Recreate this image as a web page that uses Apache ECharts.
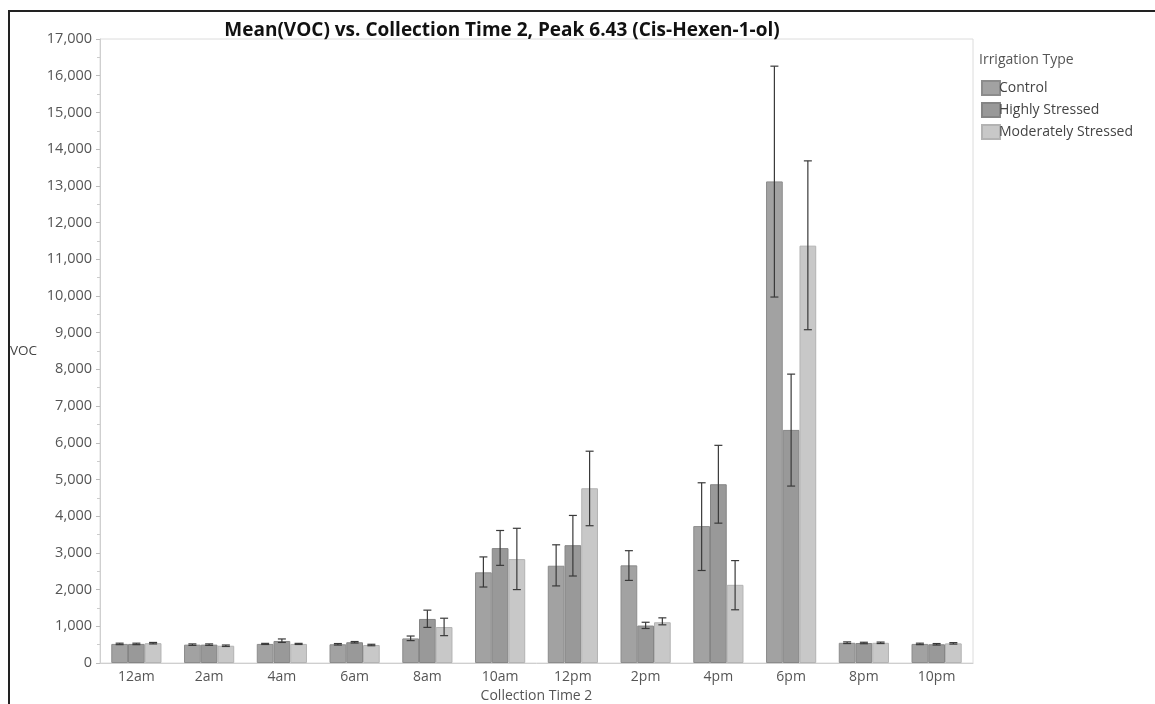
<!DOCTYPE html>
<html>
<head>
<meta charset="utf-8">
<script src="https://cdn.jsdelivr.net/npm/echarts@6/dist/echarts.min.js"></script>
<style>html,body{margin:0;padding:0;background:#fff;}#c{width:1155px;height:704px;}</style>
</head>
<body>
<div id="c"></div>
<script>
const categories = ['12am','2am','4am','6am','8am','10am','12pm','2pm','4pm','6pm','8pm','10pm'];
const seriesNames = ['Control','Highly Stressed','Moderately Stressed'];
const controlMean = [520, 500, 520, 510, 670, 2470, 2650, 2660, 3730, 13120, 550, 520];
const controlLow  = [500, 480, 505, 490, 610, 2070, 2100, 2250, 2520, 9970, 530, 500];
const controlHigh = [540, 520, 535, 530, 735, 2890, 3220, 3060, 4910, 16260, 575, 540];
const highlyMean = [520, 500, 600, 565, 1200, 3130, 3210, 1020, 4870, 6350, 545, 510];
const highlyLow  = [500, 480, 560, 545, 970, 2660, 2370, 940, 3810, 4820, 525, 490];
const highlyHigh = [540, 520, 655, 585, 1440, 3610, 4020, 1110, 5930, 7870, 565, 530];
const moderateMean = [540, 470, 520, 490, 980, 2830, 4760, 1110, 2130, 11370, 550, 535];
const moderateLow  = [520, 450, 505, 470, 745, 2000, 3740, 1040, 1450, 9080, 530, 515];
const moderateHigh = [560, 490, 535, 510, 1220, 3670, 5770, 1230, 2790, 13680, 570, 555];
const yTicks = [0, 1000, 2000, 3000, 4000, 5000, 6000, 7000, 8000, 9000, 10000, 11000, 12000, 13000, 14000, 15000, 16000, 17000];

const colors = ['#a2a2a2', '#999999', '#c8c8c8'];
const borderColors = ['#8c8c8c', '#858585', '#b3b3b3'];
const means = [controlMean, highlyMean, moderateMean];
const lows = [controlLow, highlyLow, moderateLow];
const highs = [controlHigh, highlyHigh, moderateHigh];
const CAT_GAP = 0.31;

const chart = echarts.init(document.getElementById('c'), null, {renderer: 'canvas'});
const font = '"Open Sans", "Noto Sans", sans-serif';

const series = [];
seriesNames.forEach((name, i) => {
  series.push({
    name: name,
    type: 'bar',
    data: means[i],
    barGap: '0%',
    barCategoryGap: (CAT_GAP * 100) + '%',
    itemStyle: {color: colors[i], borderColor: borderColors[i], borderWidth: 1},
    emphasis: {disabled: true}
  });
});
seriesNames.forEach((name, i) => {
  series.push({
    type: 'custom',
    name: name + ' err',
    data: categories.map((c, k) => [k, lows[i][k], highs[i][k]]),
    z: 10,
    silent: true,
    renderItem: function (params, api) {
      const k = api.value(0);
      const lo = api.coord([k, api.value(1)]);
      const hi = api.coord([k, api.value(2)]);
      const band = api.size([1, 0])[0];
      const bw = band * (1 - CAT_GAP) / 3;
      const x = lo[0] + (i - 1) * bw;
      const cap = 4;
      const st = {stroke: '#3a3a3a', lineWidth: 1.2};
      return {
        type: 'group',
        children: [
          {type: 'line', shape: {x1: x, y1: lo[1], x2: x, y2: hi[1]}, style: st},
          {type: 'line', shape: {x1: x - cap, y1: lo[1], x2: x + cap, y2: lo[1]}, style: st},
          {type: 'line', shape: {x1: x - cap, y1: hi[1], x2: x + cap, y2: hi[1]}, style: st}
        ]
      };
    }
  });
});

chart.setOption({
  animation: false,
  backgroundColor: '#fff',
  title: [
    {text: 'Mean(VOC) vs. Collection Time 2, Peak 6.43 (Cis-Hexen-1-ol)', left: 497, top: 16, textAlign: 'center',
     textStyle: {fontFamily: font, fontSize: 19, fontWeight: 'bold', color: '#111'}},
    {text: 'Irrigation Type', left: 974, top: 48,
     textStyle: {fontFamily: font, fontSize: 14, fontWeight: 'normal', color: '#555'}}
  ],
  legend: {
    orient: 'vertical', left: 976, top: 75, itemWidth: 18, itemHeight: 14, itemGap: 6,
    icon: 'rect',
    data: seriesNames, selectedMode: false,
    textStyle: {fontFamily: font, fontSize: 14, color: '#444', padding: [0, 0, 0, -6]}
  },
  grid: {left: 100, right: 182, top: 39, bottom: 41, show: true, borderColor: '#dcdcdc', borderWidth: 1,
         containLabel: false, outerBoundsMode: 'none'},
  xAxis: {
    type: 'category', data: categories,
    name: 'Collection Time 2', nameLocation: 'middle', nameGap: 26,
    nameTextStyle: {fontFamily: font, fontSize: 14, color: '#555'},
    axisLine: {lineStyle: {color: '#cfcfcf'}},
    axisTick: {show: false},
    axisLabel: {fontFamily: font, fontSize: 14, color: '#555', margin: 7}
  },
  yAxis: {
    type: 'value', min: 0, max: 17000, interval: 1000,
    name: 'VOC', nameLocation: 'middle', nameGap: 90, nameRotate: 0,
    nameTextStyle: {fontFamily: font, fontSize: 13.5, color: '#444', align: 'left'},
    axisLine: {show: true, lineStyle: {color: '#cfcfcf'}},
    axisTick: {show: true, length: 4, lineStyle: {color: '#bbb'}},
    minorTick: {show: true, splitNumber: 2, length: 3, lineStyle: {color: '#ccc'}},
    splitLine: {show: false},
    axisLabel: {fontFamily: font, fontSize: 14.5, color: '#555', margin: 8,
      formatter: v => yTicks.indexOf(v) >= 0 ? v.toLocaleString('en-US') : ''}
  },
  graphic: [
    {type: 'line', shape: {x1: 8, y1: 11, x2: 1155, y2: 11}, style: {stroke: '#222', lineWidth: 2}},
    {type: 'line', shape: {x1: 9, y1: 11, x2: 9, y2: 704}, style: {stroke: '#222', lineWidth: 2}}
  ],
  series: series
});
</script>
</body>
</html>
